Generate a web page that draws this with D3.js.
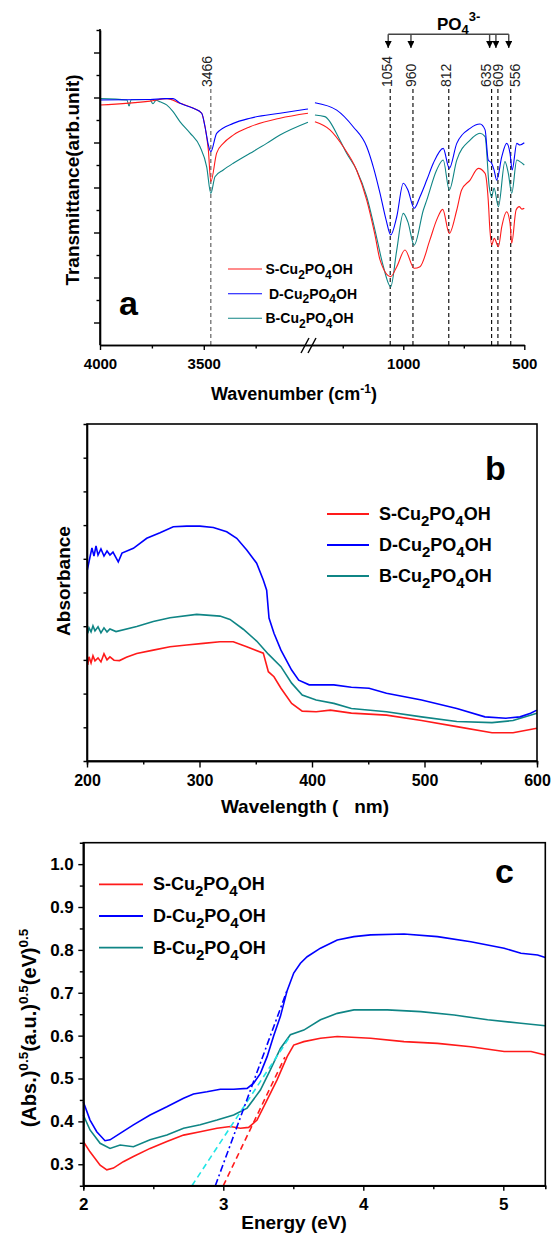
<html>

<head>
  <script src="https://d3js.org/d3.v7.min.js"></script>
</head>

<style>
  body { margin: 0; background: white; }
  text { font-family: "Liberation Sans", Arial, Helvetica, sans-serif; }
</style>

<body>

  <svg id="fig" width="551" height="1235"></svg>

  <script>

    // ---------- panel a : FTIR (broken x axis) ----------
    // [wavenumber, transmittance (arb.)]
    const ftirS_left = [[4000, 10.67], [3759, 10.84], [3677, 10.95], [3614, 10.74], [3550, 10.52], [3510, 10.30], [3494, 9.70], [3478, 8.67], [3466, 7.26], [3438, 8.53], [3406, 8.96], [3358, 9.33], [3277, 9.70], [3133, 10.08], [2998, 10.30]];
    const ftirD_left = [[4000, 10.89], [3759, 10.91], [3687, 10.95], [3648, 10.95], [3614, 10.74], [3550, 10.52], [3510, 10.30], [3494, 9.70], [3478, 8.89], [3466, 8.59], [3438, 9.41], [3358, 9.85], [3277, 10.08], [3133, 10.30], [2998, 10.49]];
    const ftirB_left = [[4000, 10.95], [3870, 10.89], [3860, 10.62], [3850, 10.90], [3759, 10.91], [3745, 10.72], [3730, 10.88], [3711, 10.81], [3679, 10.67], [3648, 10.37], [3614, 9.92], [3566, 9.42], [3518, 8.81], [3486, 7.92], [3466, 6.74], [3446, 7.48], [3406, 7.78], [3358, 8.08], [3277, 8.52], [3197, 8.96], [3133, 9.33], [2998, 9.90]];

    const ftirS_right = [[1365, 9.92], [1303, 9.56], [1248, 8.81], [1193, 7.78], [1151, 6.44], [1117, 4.89], [1096, 3.78], [1052, 3.04], [1027, 3.48], [993, 4.22], [955, 3.41], [931, 3.48], [890, 4.67], [862, 5.56], [837, 6.03], [810, 4.96], [779, 6.0], [759, 6.89], [724, 7.33], [690, 7.85], [662, 7.63], [649, 6.44], [642, 5.11], [635, 4.44], [624, 4.74], [607, 4.37], [593, 5.26], [573, 5.92], [559, 5.41], [552, 4.52], [534, 6.0], [521, 6.15], [510, 6.04], [500, 6.08]];
    const ftirD_right = [[1365, 10.77], [1275, 10.44], [1207, 9.70], [1151, 8.81], [1124, 7.92], [1096, 6.74], [1071, 5.56], [1052, 4.89], [1027, 5.70], [1000, 7.19], [981, 6.89], [955, 6.08], [931, 6.59], [903, 7.33], [876, 8.08], [835, 8.74], [810, 7.85], [779, 8.96], [724, 9.63], [683, 9.82], [662, 9.56], [649, 8.22], [635, 8.08], [625, 7.78], [614, 7.33], [593, 8.37], [573, 8.96], [559, 8.52], [550, 7.78], [531, 8.96], [518, 8.89], [500, 8.99]];
    const ftirB_right = [[1365, 10.22], [1324, 10.15], [1262, 9.11], [1234, 8.52], [1193, 7.78], [1151, 6.59], [1117, 5.11], [1084, 3.56], [1052, 2.59], [1027, 4.22], [1000, 5.85], [981, 5.47], [955, 4.44], [917, 6.0], [903, 6.44], [862, 7.78], [835, 8.22], [810, 6.89], [779, 8.22], [724, 9.11], [683, 9.41], [662, 9.26], [645, 7.04], [635, 6.59], [625, 6.98], [607, 6.15], [580, 8.15], [566, 7.63], [552, 6.74], [531, 8.22], [518, 8.15], [500, 8.0]];

    const peaksLeft = [3466];
    const peaksRight = [1054, 960, 812, 635, 609, 556];
    const po4Peaks = [1054, 960, 635, 609, 556];
    const ftirTicksLeft = [4000, 3500];
    const ftirMinorLeft = [3750, 3250];
    const ftirTicksRight = [1000, 500];
    const ftirMinorRight = [1250, 750];

    // ---------- panel b : UV-vis absorbance ----------
    // [wavelength nm, absorbance (arb.)]
    const absS = [[200.7, 2.85], [201.8, 3.09], [203.6, 2.91], [205.3, 3.12], [207.1, 2.97], [209.8, 3.06], [212.4, 2.94], [215.1, 3.18], [217.8, 3.0], [220.4, 3.09], [224, 2.99], [228.9, 2.98], [235, 3.08], [244.2, 3.19], [258.9, 3.29], [273.8, 3.39], [288.6, 3.44], [303.4, 3.49], [318.2, 3.54], [330, 3.54], [342, 3.39], [356.7, 3.20], [361.2, 2.65], [366.2, 2.50], [372.4, 2.16], [381.9, 1.71], [391.3, 1.48], [403.7, 1.46], [416.3, 1.51], [435, 1.42], [466.2, 1.36], [497.4, 1.20], [528.7, 1.02], [560, 0.84], [578.7, 0.84], [599.9, 0.97]];
    const absD = [[200.3, 5.67], [202.7, 6.06], [204.4, 6.32], [206.2, 6.08], [208, 6.38], [209.8, 6.11], [212.4, 6.29], [215.1, 6.08], [217.8, 6.23], [220.4, 6.11], [223.1, 6.2], [227.8, 5.91], [231.1, 6.17], [241.2, 6.31], [253.1, 6.61], [264.9, 6.77], [276.7, 6.95], [288.6, 6.97], [300.4, 6.97], [312.3, 6.93], [324.2, 6.80], [333.1, 6.61], [342, 6.26], [350.8, 5.87], [356.7, 5.37], [359.7, 5.07], [361.8, 4.24], [366.2, 3.79], [372.4, 3.29], [381.9, 2.70], [388.2, 2.40], [397.5, 2.26], [419.4, 2.26], [435, 2.19], [450.7, 2.16], [466.2, 2.01], [497.4, 1.81], [528.7, 1.56], [553.7, 1.31], [572.4, 1.27], [584.9, 1.31], [594.3, 1.42], [599.9, 1.51]];
    const absB = [[200.7, 3.79], [201.8, 3.95], [203.6, 3.83], [205.3, 4.01], [207.1, 3.86], [209.8, 3.98], [212.4, 3.80], [215.1, 3.95], [217.8, 3.83], [220.4, 3.92], [225.8, 3.84], [244.2, 3.99], [258.9, 4.14], [273.8, 4.25], [297.5, 4.35], [318.2, 4.30], [327.1, 4.20], [338.9, 3.91], [350.8, 3.56], [361.2, 3.17], [372.4, 2.80], [381.9, 2.31], [391.3, 1.96], [403.7, 1.81], [419.4, 1.71], [435, 1.56], [466.2, 1.46], [497.4, 1.31], [528.7, 1.17], [560, 1.14], [578.7, 1.20], [599.9, 1.42]];
    const absTicks = [200, 300, 400, 500, 600];
    const absMinor = [250, 350, 450, 550];
    const absYTicks = [1, 2, 3, 4, 5, 6, 7, 8, 9];

    // ---------- panel c : Tauc plot ----------
    // [energy eV, (Abs.)^0.5 ...]
    const taucS = [[2.0, 0.353], [2.048, 0.329], [2.12, 0.298], [2.168, 0.287], [2.215, 0.291], [2.286, 0.306], [2.358, 0.318], [2.477, 0.337], [2.597, 0.353], [2.716, 0.368], [2.835, 0.376], [2.955, 0.384], [3.05, 0.388], [3.122, 0.384], [3.181, 0.386], [3.241, 0.403], [3.313, 0.45], [3.384, 0.497], [3.456, 0.551], [3.503, 0.578], [3.575, 0.586], [3.694, 0.594], [3.814, 0.598], [4.052, 0.594], [4.291, 0.586], [4.53, 0.582], [4.768, 0.574], [5.006, 0.563], [5.198, 0.563], [5.3, 0.555]];
    const taucD = [[2.0, 0.446], [2.048, 0.403], [2.096, 0.376], [2.155, 0.355], [2.191, 0.357], [2.263, 0.372], [2.358, 0.392], [2.477, 0.415], [2.597, 0.434], [2.716, 0.454], [2.787, 0.464], [2.883, 0.469], [2.979, 0.475], [3.074, 0.475], [3.17, 0.477], [3.217, 0.489], [3.265, 0.512], [3.313, 0.551], [3.36, 0.60], [3.408, 0.645], [3.456, 0.705], [3.503, 0.746], [3.551, 0.769], [3.599, 0.784], [3.694, 0.804], [3.814, 0.823], [3.933, 0.831], [4.052, 0.835], [4.291, 0.837], [4.53, 0.831], [4.768, 0.819], [5.006, 0.804], [5.126, 0.792], [5.245, 0.788], [5.3, 0.782]];
    const taucB = [[2.0, 0.415], [2.048, 0.38], [2.12, 0.349], [2.191, 0.337], [2.263, 0.345], [2.358, 0.341], [2.477, 0.357], [2.597, 0.368], [2.716, 0.384], [2.835, 0.392], [2.955, 0.403], [3.074, 0.415], [3.17, 0.431], [3.265, 0.473], [3.336, 0.52], [3.408, 0.570], [3.479, 0.602], [3.575, 0.613], [3.694, 0.637], [3.814, 0.652], [3.933, 0.66], [4.172, 0.66], [4.41, 0.656], [4.649, 0.648], [4.888, 0.637], [5.126, 0.629], [5.3, 0.623]];
    // band gap tangent lines
    const fitS = [[3.0, 0.25], [3.44, 0.55]];
    const fitD = [[2.943, 0.25], [3.456, 0.706]];
    const fitB = [[2.776, 0.25], [3.48, 0.60]];
    const taucTicks = [2, 3, 4, 5];
    const taucMinor = [2.5, 3.5, 4.5];
    const taucYTicks = [0.3, 0.4, 0.5, 0.6, 0.7, 0.8, 0.9, 1.0];
    const taucYMinor = [0.35, 0.45, 0.55, 0.65, 0.75, 0.85, 0.95];

    const RED = "#ff1a1a", BLUE = "#0000ff", TEAL = "#0f8585";

    const svg = d3.select("svg#fig");
    const FONT = "'Liberation Sans', Arial, Helvetica, sans-serif";

    function styleAxis(g, fs) {
      g.attr("font-family", FONT).attr("font-size", fs).attr("font-weight", "bold");
      g.selectAll("path.domain").attr("stroke", "black").attr("stroke-width", 1.6);
      g.selectAll(".tick line").attr("stroke", "black").attr("stroke-width", 1.4);
      g.selectAll(".tick text").attr("fill", "black");
    }

    // legend label with subscripts: X-Cu2PO4OH
    function legendText(g, x, y, prefix, fs) {
      const sub = Math.round(fs * 0.85);
      const dy = fs * 0.33;
      const t = g.append("text").attr("x", x).attr("y", y).attr("font-size", fs)
        .attr("font-weight", "bold").attr("fill", "black");
      t.append("tspan").text(prefix + "-Cu");
      t.append("tspan").attr("font-size", sub).attr("dy", dy).text("2");
      t.append("tspan").attr("dy", -dy).text("PO");
      t.append("tspan").attr("font-size", sub).attr("dy", dy).text("4");
      t.append("tspan").attr("dy", -dy).text("OH");
    }

    // ================= panel a =================
    const xaL = d3.scaleLinear().domain([4000, 2980]).range([100, 311.7]);
    const xaR = d3.scaleLinear().domain([1380, 500]).range([311.3, 524.3]);
    const ya = d3.scaleLinear().domain([0, 14]).range([345, 30]);

    const pa = svg.append("g").attr("id", "panel-a");

    // labels are nudged sideways where they would collide
    const labelShift = { 3466: 1, 1054: 1.5, 960: 3, 812: 2, 635: -1, 609: 5, 556: 9 };

    peaksLeft.forEach(p => {
      pa.append("line").attr("x1", xaL(p)).attr("x2", xaL(p)).attr("y1", 89).attr("y2", 345)
        .attr("stroke", "#555").attr("stroke-width", 1.1).attr("stroke-dasharray", "4,3");
      pa.append("text").attr("transform", `translate(${xaL(p) + labelShift[p]},87) rotate(-90)`)
        .attr("font-size", 14).attr("fill", "#222").text(p);
    });
    peaksRight.forEach(p => {
      pa.append("line").attr("x1", xaR(p)).attr("x2", xaR(p)).attr("y1", 89).attr("y2", 345)
        .attr("stroke", "black").attr("stroke-width", 1.1).attr("stroke-dasharray", "4,3");
      pa.append("text").attr("transform", `translate(${xaR(p) + labelShift[p]},87) rotate(-90)`)
        .attr("font-size", 14).attr("fill", "#222").text(p);
    });

    // PO4 3- bracket with arrows
    svg.append("defs").append("marker").attr("id", "arrow")
      .attr("viewBox", "0 0 10 10").attr("refX", 10).attr("refY", 5)
      .attr("markerWidth", 5).attr("markerHeight", 5).attr("orient", "auto")
      .append("path").attr("d", "M0,0 L10,5 L0,10 z").attr("fill", "black");
    const bx = po4Peaks.map(p => xaR(p) - 2);
    pa.append("line").attr("x1", d3.min(bx)).attr("x2", d3.max(bx)).attr("y1", 34.3).attr("y2", 34.3)
      .attr("stroke", "#444").attr("stroke-width", 1.4);
    bx.forEach(x => {
      pa.append("line").attr("x1", x).attr("x2", x).attr("y1", 34.3).attr("y2", 48)
        .attr("stroke", "#444").attr("stroke-width", 1.4).attr("marker-end", "url(#arrow)");
    });
    const po = pa.append("text").attr("x", 437).attr("y", 30).attr("font-size", 17).attr("font-weight", "bold");
    po.append("tspan").text("PO");
    po.append("tspan").attr("font-size", 13).attr("dy", 4).text("4");
    po.append("tspan").attr("font-size", 13).attr("dy", -13).text("3-");

    // curves
    const lineAL = d3.line().x(d => xaL(d[0])).y(d => ya(d[1])).curve(d3.curveMonotoneX);
    const lineAR = d3.line().x(d => xaR(d[0])).y(d => ya(d[1])).curve(d3.curveMonotoneX);
    [[ftirB_left, ftirB_right, TEAL], [ftirS_left, ftirS_right, RED], [ftirD_left, ftirD_right, BLUE]].forEach(([l, r, c]) => {
      pa.append("path").datum(l).attr("d", lineAL).attr("fill", "none").attr("stroke", c).attr("stroke-width", 1.1);
      pa.append("path").datum(r).attr("d", lineAR).attr("fill", "none").attr("stroke", c).attr("stroke-width", 1.1);
    });

    // axes
    const aLeft = pa.append("g").attr("transform", "translate(100,0)")
      .call(d3.axisLeft(ya).tickValues([1, 3, 5, 7, 9, 11, 13]).tickSize(6).tickSizeOuter(0).tickFormat(""));
    styleAxis(aLeft, 15);
    const aLeftMinor = pa.append("g").attr("transform", "translate(100,0)")
      .call(d3.axisLeft(ya).tickValues([2, 4, 6, 8, 10, 12, 14]).tickSize(3.5).tickFormat(""));
    aLeftMinor.select(".domain").remove();
    styleAxis(aLeftMinor, 15);
    pa.append("line").attr("x1", 100).attr("x2", 100).attr("y1", 29).attr("y2", 345).attr("stroke", "black").attr("stroke-width", 1.6);

    [[xaL, ftirTicksLeft, ftirMinorLeft], [xaR, ftirTicksRight, ftirMinorRight]].forEach(([sc, maj, min]) => {
      const g1 = pa.append("g").attr("transform", "translate(0,345)")
        .call(d3.axisBottom(sc).tickValues(maj).tickSize(5).tickSizeOuter(0).tickPadding(8.5).tickFormat(d3.format("d")));
      styleAxis(g1, 15);
      const g2 = pa.append("g").attr("transform", "translate(0,345)")
        .call(d3.axisBottom(sc).tickValues(min).tickSize(3.5).tickSizeOuter(0).tickFormat(""));
      styleAxis(g2, 15);
    });
    // axis break marks
    [305, 312].forEach(x => {
      pa.append("line").attr("x1", x - 4).attr("x2", x + 4).attr("y1", 353).attr("y2", 338)
        .attr("stroke", "black").attr("stroke-width", 1.4);
    });

    pa.append("text").attr("transform", "translate(79,180) rotate(-90)").attr("text-anchor", "middle")
      .attr("font-size", 19).attr("font-weight", "bold").text("Transmittance(arb.unit)");
    const xta = pa.append("text").attr("x", 294).attr("y", 400).attr("text-anchor", "middle")
      .attr("font-size", 18).attr("font-weight", "bold");
    xta.append("tspan").text("Wavenumber (cm");
    xta.append("tspan").attr("font-size", 12).attr("dy", -7).text("-1");
    xta.append("tspan").attr("dy", 7).text(")");

    pa.append("text").attr("x", 119).attr("y", 315).attr("font-size", 34).attr("font-weight", "bold").text("a");

    const legA = [[RED, "S", 269], [BLUE, " D", 293.7], [TEAL, "B", 318.3]];
    legA.forEach(([c, n, y]) => {
      pa.append("line").attr("x1", 228).attr("x2", 262).attr("y1", y).attr("y2", y).attr("stroke", c).attr("stroke-width", 1.1);
      legendText(pa, n === " D" ? 269 : 265.5, y + 5, n.trim(), 14);
    });

    // ================= panel b =================
    const xb = d3.scaleLinear().domain([200, 600]).range([87, 537]);
    const yb = d3.scaleLinear().domain([0, 10]).range([761, 424]);
    const pb = svg.append("g").attr("id", "panel-b");
    const lineB = d3.line().x(d => xb(d[0])).y(d => yb(d[1]));
    [[absS, RED], [absB, TEAL], [absD, BLUE]].forEach(([d, c]) => {
      pb.append("path").datum(d).attr("d", lineB).attr("fill", "none").attr("stroke", c).attr("stroke-width", 1.6);
    });
    const bxMaj = pb.append("g").attr("transform", "translate(0,761)")
      .call(d3.axisBottom(xb).tickValues(absTicks).tickSize(6.5).tickSizeOuter(0).tickPadding(7.5));
    styleAxis(bxMaj, 16);
    const bxMin = pb.append("g").attr("transform", "translate(0,761)")
      .call(d3.axisBottom(xb).tickValues(absMinor).tickSize(3.5).tickFormat(""));
    styleAxis(bxMin, 16);
    const byMaj = pb.append("g").attr("transform", "translate(87,0)")
      .call(d3.axisLeft(yb).tickValues(absYTicks).tickSize(3.5).tickFormat(""));
    styleAxis(byMaj, 16);
    pb.append("rect").attr("x", 87).attr("y", 424).attr("width", 450).attr("height", 337)
      .attr("fill", "none").attr("stroke", "black").attr("stroke-width", 1.6);

    pb.append("text").attr("transform", "translate(70,581) rotate(-90)").attr("text-anchor", "middle")
      .attr("font-size", 19).attr("font-weight", "bold").text("Absorbance");
    pb.append("text").attr("x", 305).attr("y", 813).attr("text-anchor", "middle")
      .style("white-space", "pre").attr("font-size", 19).attr("font-weight", "bold").text("Wavelength (   nm)");
    pb.append("text").attr("x", 485).attr("y", 480).attr("font-size", 34).attr("font-weight", "bold").text("b");

    const legB = [[RED, "S", 514], [BLUE, "D", 545], [TEAL, "B", 576]];
    legB.forEach(([c, n, y]) => {
      pb.append("line").attr("x1", 327).attr("x2", 369).attr("y1", y).attr("y2", y).attr("stroke", c).attr("stroke-width", 1.8);
      legendText(pb, 379, y + 6, n, 18);
    });

    // ================= panel c =================
    const xc = d3.scaleLinear().domain([2, 5.3]).range([83.3, 545.3]);
    const yc = d3.scaleLinear().domain([0.25, 1.05]).range([1185.7, 842.7]);
    const pc = svg.append("g").attr("id", "panel-c");
    const lineC = d3.line().x(d => xc(d[0])).y(d => yc(d[1]));
    [[taucS, RED], [taucB, TEAL], [taucD, BLUE]].forEach(([d, c]) => {
      pc.append("path").datum(d).attr("d", lineC).attr("fill", "none").attr("stroke", c).attr("stroke-width", 1.6);
    });
    pc.append("path").datum(fitB).attr("d", lineC).attr("fill", "none").attr("stroke", "#22e5e5")
      .attr("stroke-width", 1.6).attr("stroke-dasharray", "6,4");
    pc.append("path").datum(fitD).attr("d", lineC).attr("fill", "none").attr("stroke", BLUE)
      .attr("stroke-width", 1.6).attr("stroke-dasharray", "7,3,2,3");
    pc.append("path").datum(fitS).attr("d", lineC).attr("fill", "none").attr("stroke", RED)
      .attr("stroke-width", 1.6).attr("stroke-dasharray", "6,4");

    const cxMaj = pc.append("g").attr("transform", "translate(0,1185.7)")
      .call(d3.axisBottom(xc).tickValues(taucTicks).tickSize(5).tickSizeOuter(0).tickPadding(7.5).tickFormat(d3.format("d")));
    styleAxis(cxMaj, 17);
    const cxMin = pc.append("g").attr("transform", "translate(0,1185.7)")
      .call(d3.axisBottom(xc).tickValues(taucMinor).tickSize(3.5).tickFormat(""));
    styleAxis(cxMin, 17);
    const cyMaj = pc.append("g").attr("transform", "translate(83.3,0)")
      .call(d3.axisLeft(yc).tickValues(taucYTicks).tickSize(5).tickSizeOuter(0).tickPadding(4.5).tickFormat(d3.format(".1f")));
    styleAxis(cyMaj, 17);
    const cyMin = pc.append("g").attr("transform", "translate(83.3,0)")
      .call(d3.axisLeft(yc).tickValues(taucYMinor).tickSize(3.5).tickFormat(""));
    styleAxis(cyMin, 17);
    pc.append("rect").attr("x", 83.3).attr("y", 842.7).attr("width", 462).attr("height", 343)
      .attr("fill", "none").attr("stroke", "black").attr("stroke-width", 1.6);

    const ylc = pc.append("text").attr("transform", "translate(36,1028) rotate(-90)").attr("text-anchor", "middle")
      .attr("font-size", 20).attr("font-weight", "bold");
    [["(Abs.)", "0.5"], ["(a.u.)", "0.5"], ["(eV)", "0.5"]].forEach(([a, b], i) => {
      ylc.append("tspan").attr("dy", i ? 8 : 0).text(a);
      ylc.append("tspan").attr("font-size", 13.5).attr("dy", -8).text(b);
    });
    pc.append("text").attr("x", 294).attr("y", 1229).attr("text-anchor", "middle")
      .attr("font-size", 19).attr("font-weight", "bold").text("Energy (eV)");
    pc.append("text").attr("x", 495).attr("y", 883).attr("font-size", 34).attr("font-weight", "bold").text("c");

    const legC = [[RED, "S", 884.3], [BLUE, "D", 916], [TEAL, "B", 947.7]];
    legC.forEach(([c, n, y]) => {
      pc.append("line").attr("x1", 99).attr("x2", 143).attr("y1", y).attr("y2", y).attr("stroke", c).attr("stroke-width", 1.8);
      legendText(pc, 153, y + 6, n, 18);
    });

  </script>

</body>

</html>
